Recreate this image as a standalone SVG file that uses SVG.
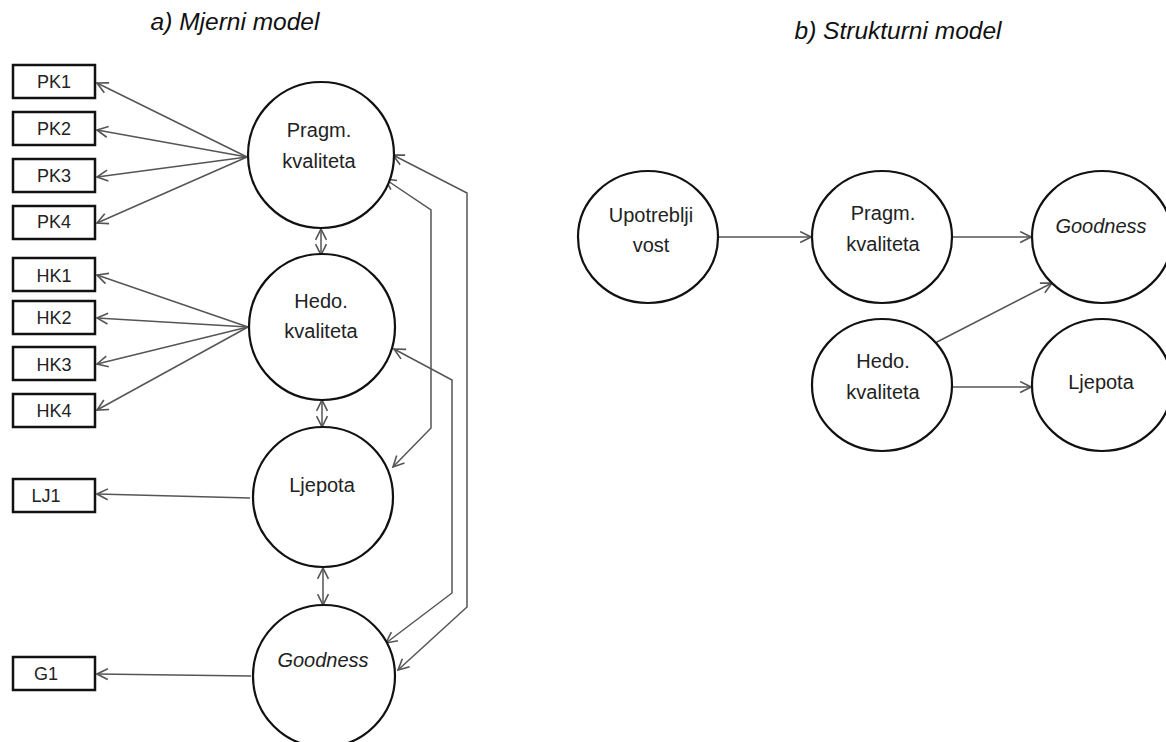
<svg xmlns="http://www.w3.org/2000/svg" width="1166" height="742" viewBox="0 0 1166 742">
<style>
.bg{fill:#fff}
.node{fill:#fff;stroke:#111;stroke-width:2.2}
.box{fill:#fff;stroke:#111;stroke-width:2.5}
.lbl{font-family:"Liberation Sans",Arial,sans-serif;font-size:20px;fill:#222;text-anchor:middle}
.bl{font-family:"Liberation Sans",Arial,sans-serif;font-size:18px;fill:#222;text-anchor:middle}
.ttl{font-family:"Liberation Sans",Arial,sans-serif;font-size:24.5px;font-style:italic;fill:#111;text-anchor:middle}
.it{font-style:italic}
.c{fill:none;stroke:#555;stroke-width:1.5}
</style>
<defs>
<marker id="arr" viewBox="0 0 12 12" refX="11" refY="6" markerWidth="13" markerHeight="13" markerUnits="userSpaceOnUse" orient="auto-start-reverse">
<path d="M1,1 L11,6 L1,11" fill="none" stroke="#555" stroke-width="1.5"/>
</marker>
</defs>
<rect class="bg" x="0" y="0" width="1166" height="742"/>
<text class="ttl" x="235" y="30">a) Mjerni model</text>
<text class="ttl" x="898" y="39">b) Strukturni model</text>

<g id="connectors">
<line class="c" x1="247" y1="157" x2="97" y2="83" marker-end="url(#arr)"/>
<line class="c" x1="247" y1="157" x2="97" y2="130" marker-end="url(#arr)"/>
<line class="c" x1="247" y1="157" x2="97" y2="177" marker-end="url(#arr)"/>
<line class="c" x1="247" y1="157" x2="97" y2="223" marker-end="url(#arr)"/>
<line class="c" x1="248" y1="327" x2="97" y2="275" marker-end="url(#arr)"/>
<line class="c" x1="248" y1="327" x2="97" y2="318" marker-end="url(#arr)"/>
<line class="c" x1="248" y1="327" x2="97" y2="364" marker-end="url(#arr)"/>
<line class="c" x1="248" y1="327" x2="97" y2="410" marker-end="url(#arr)"/>
<line class="c" x1="250" y1="498" x2="97" y2="494" marker-end="url(#arr)"/>
<line class="c" x1="251" y1="676" x2="97" y2="674" marker-end="url(#arr)"/>
<line class="c" x1="321" y1="229" x2="321" y2="255" marker-start="url(#arr)" marker-end="url(#arr)"/>
<line class="c" x1="322" y1="400" x2="322" y2="427" marker-start="url(#arr)" marker-end="url(#arr)"/>
<line class="c" x1="323" y1="568" x2="323" y2="605" marker-start="url(#arr)" marker-end="url(#arr)"/>
<polyline class="c" points="393,155 467,193 467,607 398,670" marker-start="url(#arr)" marker-end="url(#arr)"/>
<polyline class="c" points="385,179 431,210 431,428 393,467" marker-start="url(#arr)" marker-end="url(#arr)"/>
<polyline class="c" points="394,349 452,380 452,593 386,643" marker-start="url(#arr)" marker-end="url(#arr)"/>
<line class="c" x1="718" y1="237" x2="811" y2="237" marker-end="url(#arr)"/>
<line class="c" x1="952" y1="237" x2="1031" y2="237" marker-end="url(#arr)"/>
<line class="c" x1="952" y1="387" x2="1031" y2="387" marker-end="url(#arr)"/>
<line class="c" x1="935" y1="343" x2="1052" y2="283" marker-end="url(#arr)"/>
</g>

<g id="PK1"><rect class="box" x="13" y="65" width="82" height="33"/><text class="bl" x="54" y="88">PK1</text></g>
<g id="PK2"><rect class="box" x="13" y="112" width="82" height="33"/><text class="bl" x="54" y="135">PK2</text></g>
<g id="PK3"><rect class="box" x="13" y="159" width="82" height="33"/><text class="bl" x="54" y="182">PK3</text></g>
<g id="PK4"><rect class="box" x="13" y="206" width="82" height="33"/><text class="bl" x="54" y="228">PK4</text></g>
<g id="HK1"><rect class="box" x="13" y="258" width="82" height="33"/><text class="bl" x="54" y="282">HK1</text></g>
<g id="HK2"><rect class="box" x="13" y="301" width="82" height="33"/><text class="bl" x="54" y="324">HK2</text></g>
<g id="HK3"><rect class="box" x="13" y="347" width="82" height="33"/><text class="bl" x="54" y="371">HK3</text></g>
<g id="HK4"><rect class="box" x="13" y="394" width="82" height="33"/><text class="bl" x="54" y="417">HK4</text></g>
<g id="LJ1"><rect class="box" x="13" y="479" width="82" height="33"/><text class="bl" x="46" y="502">LJ1</text></g>
<g id="G1"><rect class="box" x="13" y="657" width="82" height="33"/><text class="bl" x="46" y="680">G1</text></g>

<g id="a-pragm"><circle class="node" cx="321" cy="155" r="73"/><text class="lbl" x="319" y="137">Pragm.</text><text class="lbl" x="319" y="168">kvaliteta</text></g>
<g id="a-hedo"><circle class="node" cx="322" cy="327" r="73"/><text class="lbl" x="321" y="308">Hedo.</text><text class="lbl" x="321" y="338">kvaliteta</text></g>
<g id="a-ljepota"><circle class="node" cx="323" cy="497" r="70"/><text class="lbl" x="322" y="492">Ljepota</text></g>
<g id="a-goodness"><circle class="node" cx="324" cy="676" r="71"/><text class="lbl it" x="323" y="667">Goodness</text></g>

<g id="b-upotrebljivost"><ellipse class="node" cx="648" cy="237" rx="70" ry="66"/><text class="lbl" x="651" y="222">Upotreblji</text><text class="lbl" x="651" y="252">vost</text></g>
<g id="b-pragm"><ellipse class="node" cx="882" cy="237" rx="70" ry="66"/><text class="lbl" x="883" y="220">Pragm.</text><text class="lbl" x="883" y="251">kvaliteta</text></g>
<g id="b-goodness"><ellipse class="node" cx="1102" cy="237" rx="70" ry="66"/><text class="lbl it" x="1101" y="233">Goodness</text></g>
<g id="b-hedo"><ellipse class="node" cx="882" cy="385" rx="70" ry="66"/><text class="lbl" x="883" y="368">Hedo.</text><text class="lbl" x="883" y="399">kvaliteta</text></g>
<g id="b-ljepota"><ellipse class="node" cx="1102" cy="385" rx="70" ry="66"/><text class="lbl" x="1101" y="389">Ljepota</text></g>
</svg>
